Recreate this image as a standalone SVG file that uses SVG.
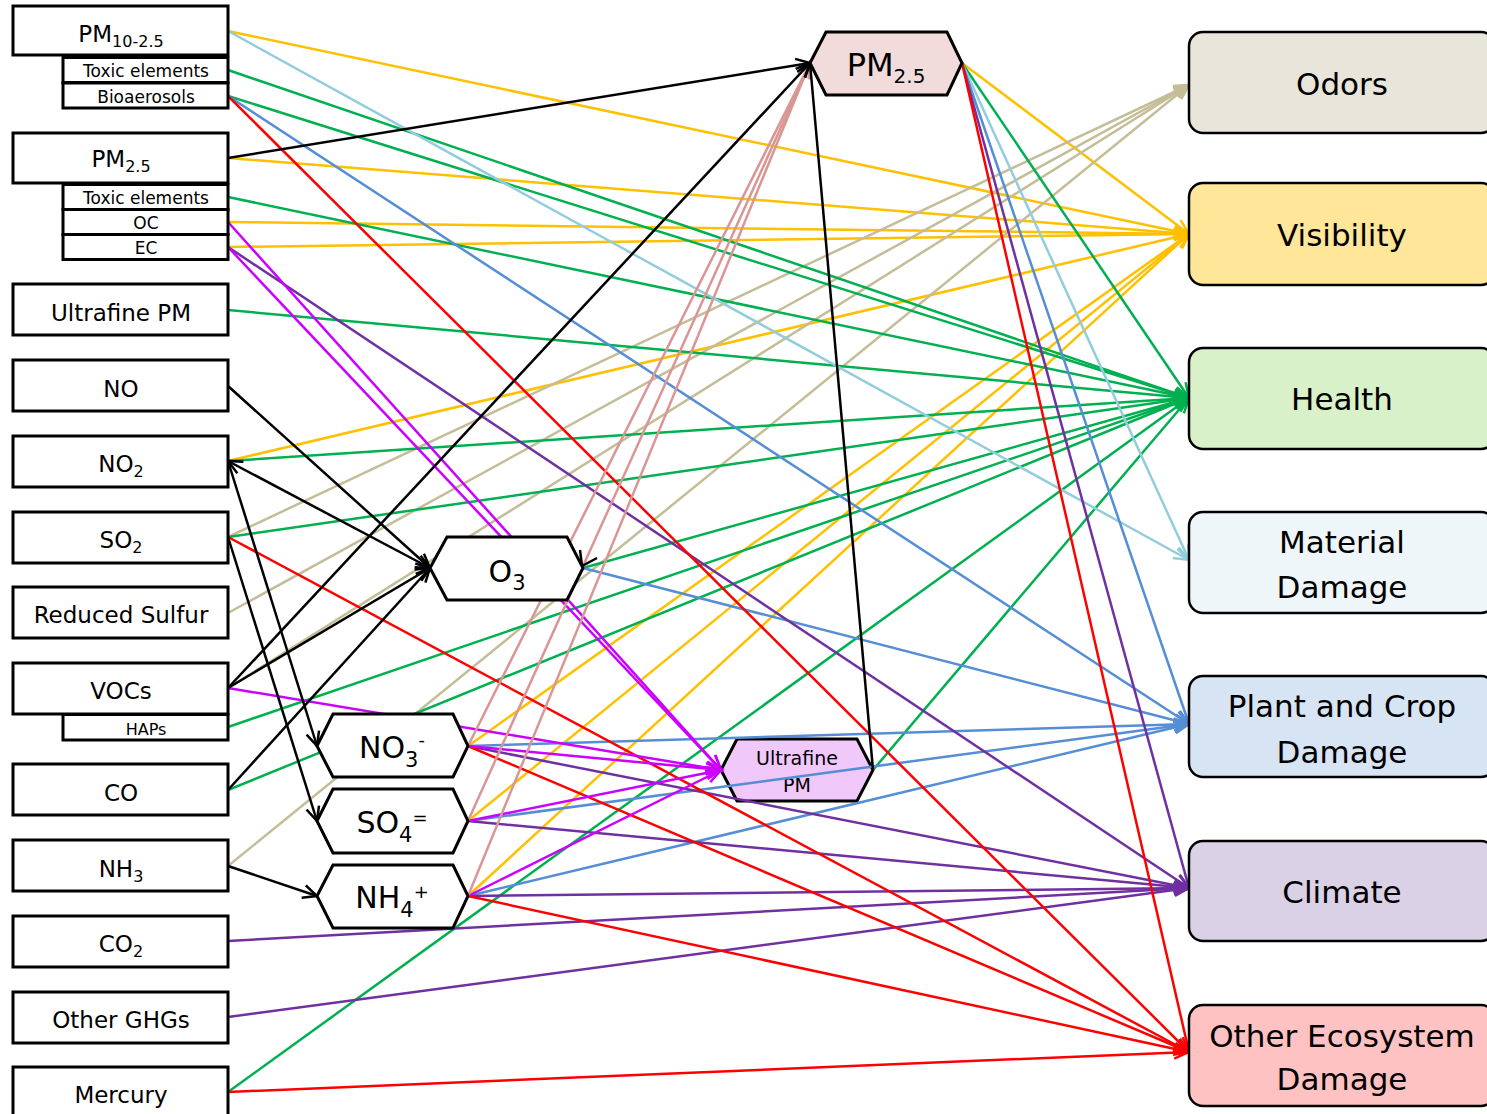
<svg xmlns="http://www.w3.org/2000/svg" width="1487" height="1114" viewBox="0 0 1487 1114">
<style>
text{font-family:"DejaVu Sans","Liberation Sans",sans-serif;fill:#000;text-anchor:middle}
.src rect{fill:#fff;stroke:#000;stroke-width:3}
.lt{font-size:23px}
.st{font-size:17px}
.sub{font-size:16px}
.hex{stroke:#000;stroke-width:3;stroke-linejoin:miter}
.ht{font-size:30px}
.hs{font-size:21px}
.hp{font-size:18px}
.tgt rect{stroke:#000;stroke-width:2.5}
.tt{font-size:31px}
#connectors line{stroke-width:2.5;fill:none}
.y{stroke:#FFC000;marker-end:url(#m-y)}
.t{stroke:#C4BD97;marker-end:url(#m-t)}
.g{stroke:#00B050;marker-end:url(#m-g)}
.lb{stroke:#93CDDD;marker-end:url(#m-lb)}
.b{stroke:#558ED5;marker-end:url(#m-b)}
.p{stroke:#7030A0;marker-end:url(#m-p)}
.r{stroke:#FF0000;marker-end:url(#m-r)}
.m{stroke:#CC00FF;marker-end:url(#m-m)}
.pk{stroke:#D99694;marker-end:url(#m-pk)}
.k{stroke:#000;marker-end:url(#m-k)}
.kk{stroke:#000;marker-end:url(#m-k);marker-start:url(#m-k)}
</style>
<defs>
<marker id="m-y" viewBox="-18 -9 20 18" refX="0" refY="0" markerWidth="20" markerHeight="18" markerUnits="userSpaceOnUse" orient="auto-start-reverse" overflow="visible"><path d="M-15,-6 L0,0 L-15,6" fill="none" stroke="#FFC000" stroke-width="2.5"/></marker>
<marker id="m-t" viewBox="-18 -9 20 18" refX="0" refY="0" markerWidth="20" markerHeight="18" markerUnits="userSpaceOnUse" orient="auto-start-reverse" overflow="visible"><path d="M-15,-6 L0,0 L-15,6" fill="none" stroke="#C4BD97" stroke-width="2.5"/></marker>
<marker id="m-g" viewBox="-18 -9 20 18" refX="0" refY="0" markerWidth="20" markerHeight="18" markerUnits="userSpaceOnUse" orient="auto-start-reverse" overflow="visible"><path d="M-15,-6 L0,0 L-15,6" fill="none" stroke="#00B050" stroke-width="2.5"/></marker>
<marker id="m-lb" viewBox="-18 -9 20 18" refX="0" refY="0" markerWidth="20" markerHeight="18" markerUnits="userSpaceOnUse" orient="auto-start-reverse" overflow="visible"><path d="M-15,-6 L0,0 L-15,6" fill="none" stroke="#93CDDD" stroke-width="2.5"/></marker>
<marker id="m-b" viewBox="-18 -9 20 18" refX="0" refY="0" markerWidth="20" markerHeight="18" markerUnits="userSpaceOnUse" orient="auto-start-reverse" overflow="visible"><path d="M-15,-6 L0,0 L-15,6" fill="none" stroke="#558ED5" stroke-width="2.5"/></marker>
<marker id="m-p" viewBox="-18 -9 20 18" refX="0" refY="0" markerWidth="20" markerHeight="18" markerUnits="userSpaceOnUse" orient="auto-start-reverse" overflow="visible"><path d="M-15,-6 L0,0 L-15,6" fill="none" stroke="#7030A0" stroke-width="2.5"/></marker>
<marker id="m-r" viewBox="-18 -9 20 18" refX="0" refY="0" markerWidth="20" markerHeight="18" markerUnits="userSpaceOnUse" orient="auto-start-reverse" overflow="visible"><path d="M-15,-6 L0,0 L-15,6" fill="none" stroke="#FF0000" stroke-width="2.5"/></marker>
<marker id="m-m" viewBox="-18 -9 20 18" refX="0" refY="0" markerWidth="20" markerHeight="18" markerUnits="userSpaceOnUse" orient="auto-start-reverse" overflow="visible"><path d="M-15,-6 L0,0 L-15,6" fill="none" stroke="#CC00FF" stroke-width="2.5"/></marker>
<marker id="m-pk" viewBox="-18 -9 20 18" refX="0" refY="0" markerWidth="20" markerHeight="18" markerUnits="userSpaceOnUse" orient="auto-start-reverse" overflow="visible"><path d="M-15,-6 L0,0 L-15,6" fill="none" stroke="#D99694" stroke-width="2.5"/></marker>
<marker id="m-k" viewBox="-18 -9 20 18" refX="0" refY="0" markerWidth="20" markerHeight="18" markerUnits="userSpaceOnUse" orient="auto-start-reverse" overflow="visible"><path d="M-14,-6.5 L0,0 L-14,6.5" fill="none" stroke="#000" stroke-width="2.5"/></marker>
</defs>
<rect width="1487" height="1114" fill="#fff"/>

<g id="n-ultrafine-hex">
<polygon class="hex" fill="#F0C8FA" points="721,770 737,739 857,739 873,770 857,801 737,801"/>
<text x="797" y="765" style="font-size:19px">Ultrafine</text>
<text x="797" y="792" style="font-size:19px">PM</text>
</g>

<g id="connectors">
<line class="y" x1="228" y1="31" x2="1189" y2="234"/>
<line class="y" x1="228" y1="158" x2="1189" y2="234"/>
<line class="y" x1="228" y1="222" x2="1189" y2="234"/>
<line class="y" x1="228" y1="247" x2="1189" y2="234"/>
<line class="y" x1="228" y1="461" x2="1189" y2="234"/>
<line class="y" x1="468" y1="746" x2="1189" y2="234"/>
<line class="y" x1="468" y1="821" x2="1189" y2="234"/>
<line class="y" x1="468" y1="896" x2="1189" y2="234"/>
<line class="y" x1="962" y1="63" x2="1189" y2="234"/>

<line class="t" x1="228" y1="537" x2="1189" y2="85"/>
<line class="t" x1="228" y1="613" x2="1189" y2="85"/>
<line class="t" x1="228" y1="688" x2="1189" y2="85"/>
<line class="t" x1="228" y1="866" x2="1189" y2="85"/>

<line class="g" x1="228" y1="70" x2="1189" y2="398"/>
<line class="g" x1="228" y1="96" x2="1189" y2="398"/>
<line class="g" x1="228" y1="197" x2="1189" y2="398"/>
<line class="g" x1="228" y1="310" x2="1189" y2="398"/>
<line class="g" x1="228" y1="461" x2="1189" y2="398"/>
<line class="g" x1="228" y1="537" x2="1189" y2="398"/>
<line class="g" x1="228" y1="727" x2="1189" y2="398"/>
<line class="g" x1="228" y1="790" x2="1189" y2="398"/>
<line class="g" x1="228" y1="1092" x2="1189" y2="398"/>
<line class="g" x1="583" y1="568" x2="1189" y2="398"/>
<line class="g" x1="873" y1="770" x2="1189" y2="398"/>
<line class="g" x1="962" y1="63" x2="1189" y2="398"/>

<line class="lb" x1="228" y1="31" x2="1189" y2="560"/>
<line class="lb" x1="962" y1="63" x2="1189" y2="560"/>

<line class="b" x1="228" y1="96" x2="1189" y2="724"/>
<line class="b" x1="583" y1="568" x2="1189" y2="724"/>
<line class="b" x1="468" y1="746" x2="1189" y2="724"/>
<line class="b" x1="468" y1="821" x2="1189" y2="724"/>
<line class="b" x1="468" y1="896" x2="1189" y2="724"/>
<line class="b" x1="962" y1="63" x2="1189" y2="724"/>

<line class="p" x1="228" y1="247" x2="1189" y2="888"/>
<line class="p" x1="468" y1="746" x2="1189" y2="888"/>
<line class="p" x1="468" y1="821" x2="1189" y2="888"/>
<line class="p" x1="468" y1="896" x2="1189" y2="888"/>
<line class="p" x1="228" y1="941" x2="1189" y2="888"/>
<line class="p" x1="228" y1="1017" x2="1189" y2="888"/>
<line class="p" x1="962" y1="63" x2="1189" y2="888"/>

<line class="r" x1="228" y1="96" x2="1189" y2="1052"/>
<line class="r" x1="228" y1="537" x2="1189" y2="1052"/>
<line class="r" x1="468" y1="746" x2="1189" y2="1052"/>
<line class="r" x1="468" y1="896" x2="1189" y2="1052"/>
<line class="r" x1="228" y1="1092" x2="1189" y2="1052"/>
<line class="r" x1="962" y1="63" x2="1189" y2="1052"/>

<line class="m" x1="228" y1="222" x2="721" y2="770"/>
<line class="m" x1="228" y1="247" x2="721" y2="770"/>
<line class="m" x1="228" y1="688" x2="721" y2="770"/>
<line class="m" x1="468" y1="746" x2="721" y2="770"/>
<line class="m" x1="468" y1="821" x2="721" y2="770"/>
<line class="m" x1="468" y1="896" x2="721" y2="770"/>

<line class="pk" x1="468" y1="746" x2="810" y2="63"/>
<line class="pk" x1="468" y1="821" x2="810" y2="63"/>
<line class="pk" x1="468" y1="896" x2="810" y2="63"/>

<line class="k" x1="228" y1="158" x2="810" y2="63"/>
<line class="k" x1="228" y1="688" x2="810" y2="63"/>
<line class="k" x1="873" y1="770" x2="810" y2="63"/>
<line class="k" x1="228" y1="386" x2="430" y2="568"/>
<line class="kk" x1="228" y1="461" x2="430" y2="568"/>
<line class="k" x1="228" y1="688" x2="430" y2="568"/>
<line class="k" x1="228" y1="790" x2="430" y2="568"/>
<line class="k" x1="228" y1="461" x2="317" y2="746"/>
<line class="k" x1="228" y1="537" x2="317" y2="821"/>
<line class="k" x1="228" y1="866" x2="317" y2="896"/>
<path d="M580,550 L582,566 L597,558" fill="none" stroke="#000" stroke-width="2.5"/>
</g>

<g id="n-pm10" class="src">
<rect x="13" y="6" width="215" height="49"/>
<text class="lt" x="121" y="42">PM<tspan class="sub" dy="5">10-2.5</tspan></text>
<rect x="63" y="57.5" width="165" height="25"/>
<text class="st" x="146" y="76.5">Toxic elements</text>
<rect x="63" y="83" width="165" height="25"/>
<text class="st" x="146" y="102.5">Bioaerosols</text>
</g>
<g id="n-pm25" class="src">
<rect x="13" y="133" width="215" height="50"/>
<text class="lt" x="121" y="167">PM<tspan class="sub" dy="5">2.5</tspan></text>
<rect x="63" y="184.5" width="165" height="25"/>
<text class="st" x="146" y="203.5">Toxic elements</text>
<rect x="63" y="209.5" width="165" height="25"/>
<text class="st" x="146" y="229">OC</text>
<rect x="63" y="234.5" width="165" height="25"/>
<text class="st" x="146" y="253.5">EC</text>
</g>
<g id="n-ultrafine" class="src"><rect x="13" y="284" width="215" height="51"/><text class="lt" x="121" y="320.5">Ultrafine PM</text></g>
<g id="n-no" class="src"><rect x="13" y="360" width="215" height="51"/><text class="lt" x="121" y="396.5">NO</text></g>
<g id="n-no2" class="src"><rect x="13" y="436" width="215" height="51"/><text class="lt" x="121" y="471.5">NO<tspan class="sub" dy="5">2</tspan></text></g>
<g id="n-so2" class="src"><rect x="13" y="512" width="215" height="51"/><text class="lt" x="121" y="548">SO<tspan class="sub" dy="5">2</tspan></text></g>
<g id="n-rs" class="src"><rect x="13" y="587" width="215" height="51"/><text class="lt" x="121" y="623">Reduced Sulfur</text></g>
<g id="n-vocs" class="src">
<rect x="13" y="663" width="215" height="51"/><text class="lt" x="121" y="698.5">VOCs</text>
<rect x="63" y="714.5" width="165" height="25.5"/><text class="st" x="146" y="735" style="font-size:16px">HAPs</text>
</g>
<g id="n-co" class="src"><rect x="13" y="764" width="215" height="51"/><text class="lt" x="121" y="800.5">CO</text></g>
<g id="n-nh3" class="src"><rect x="13" y="840" width="215" height="51"/><text class="lt" x="121" y="876.5">NH<tspan class="sub" dy="5">3</tspan></text></g>
<g id="n-co2" class="src"><rect x="13" y="916" width="215" height="51"/><text class="lt" x="121" y="952">CO<tspan class="sub" dy="5">2</tspan></text></g>
<g id="n-ghg" class="src"><rect x="13" y="992" width="215" height="51"/><text class="lt" x="121" y="1027.5">Other GHGs</text></g>
<g id="n-hg" class="src"><rect x="13" y="1067" width="215" height="51"/><text class="lt" x="121" y="1103">Mercury</text></g>

<g id="n-pm25-hex">
<polygon class="hex" fill="#F2DCDB" points="810,63 826,32 947,32 962,63 947,95 826,95"/>
<text x="886" y="76" style="font-size:32px">PM<tspan dy="7" style="font-size:20px">2.5</tspan></text>
</g>
<g id="n-o3">
<polygon class="hex" fill="#fff" points="430,568 447,537 567,537 583,568 567,600 447,600"/>
<text class="ht" x="507" y="582">O<tspan class="hs" dy="8">3</tspan></text>
</g>
<g id="n-no3">
<polygon class="hex" fill="#fff" points="317,746 333,714 453,714 468,746 453,777 333,777"/>
<text class="ht" x="392" y="758">NO<tspan class="hs" dy="9">3</tspan><tspan class="hp" dy="-21.5">-</tspan></text>
</g>
<g id="n-so4">
<polygon class="hex" fill="#fff" points="317,821 333,789 453,789 468,821 453,853 333,853"/>
<text class="ht" x="392" y="833">SO<tspan class="hs" dy="9">4</tspan><tspan class="hp" dy="-18">=</tspan></text>
</g>
<g id="n-nh4">
<polygon class="hex" fill="#fff" points="317,896 333,865 453,865 468,896 453,928 333,928"/>
<text class="ht" x="392" y="908">NH<tspan class="hs" dy="9">4</tspan><tspan class="hp" dy="-19.5">+</tspan></text>
</g>

<g id="n-odors" class="tgt"><rect x="1189" y="32" width="306" height="101" rx="14" fill="#E8E6DA"/><text class="tt" x="1342" y="95">Odors</text></g>
<g id="n-visibility" class="tgt"><rect x="1189" y="183" width="306" height="102" rx="14" fill="#FFE699"/><text class="tt" x="1342" y="246">Visibility</text></g>
<g id="n-health" class="tgt"><rect x="1189" y="348" width="306" height="101" rx="14" fill="#D8F1C8"/><text class="tt" x="1342" y="410">Health</text></g>
<g id="n-material" class="tgt"><rect x="1189" y="512" width="306" height="101" rx="14" fill="#EEF6FA"/><text class="tt" x="1342" y="553">Material</text><text class="tt" x="1342" y="598">Damage</text></g>
<g id="n-plant" class="tgt"><rect x="1189" y="676" width="306" height="101" rx="14" fill="#D6E4F4"/><text class="tt" x="1342" y="717">Plant and Crop</text><text class="tt" x="1342" y="763">Damage</text></g>
<g id="n-climate" class="tgt"><rect x="1189" y="841" width="306" height="100" rx="14" fill="#DAD1E6"/><text class="tt" x="1342" y="903">Climate</text></g>
<g id="n-othereco" class="tgt"><rect x="1189" y="1005" width="306" height="101" rx="14" fill="#FFC2C2"/><text class="tt" x="1342" y="1047">Other Ecosystem</text><text class="tt" x="1342" y="1090">Damage</text></g>
</svg>
